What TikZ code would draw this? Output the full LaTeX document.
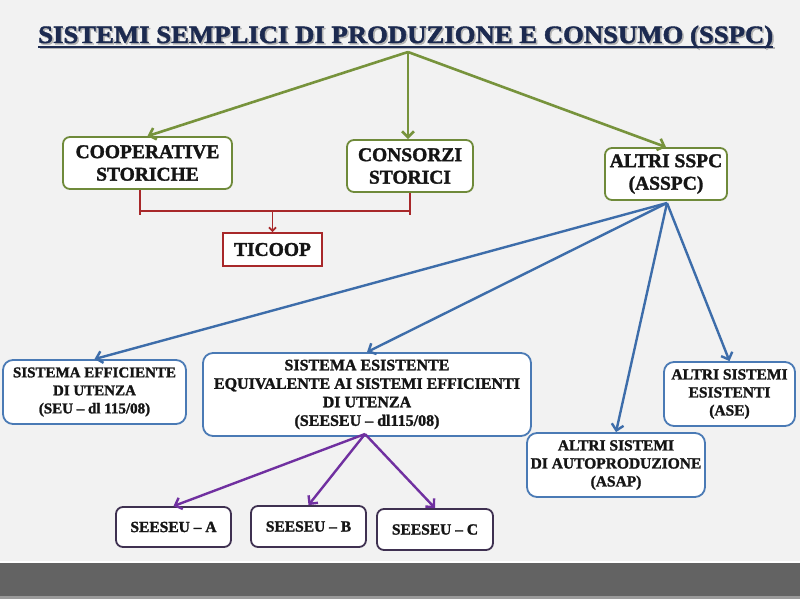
\documentclass[tikz,border=0pt]{standalone}
\usepackage{fontspec}
\setmainfont{Liberation Serif}[BoldFeatures={FakeBold=1.6}]
\usetikzlibrary{arrows.meta,calc}
\definecolor{bg}{HTML}{F2F2F2}
\definecolor{band}{HTML}{636363}
\definecolor{bandlow}{HTML}{9A9A9A}
\definecolor{navy}{HTML}{1C2A50}
\definecolor{lgreen}{HTML}{77933C}
\definecolor{bgreen}{HTML}{6F8A3A}
\definecolor{lred}{HTML}{A8282A}
\definecolor{lblue}{HTML}{3D6DAA}
\definecolor{bblue}{HTML}{4A7AB5}
\definecolor{lpurple}{HTML}{7030A0}
\definecolor{bpurple}{HTML}{3F3151}
\definecolor{txt}{HTML}{151515}
\begin{document}
\begin{tikzpicture}[x=1pt,y=-1pt,
  boxbase/.style={fill=white, align=center, inner sep=0pt, text=txt},
  gbox/.style={boxbase, draw=bgreen, line width=1.8pt, rounded corners=7pt,
    font=\fontsize{19.5}{22.5}\selectfont\bfseries},
  rbox/.style={boxbase, draw=lred, line width=1.8pt,
    font=\fontsize{19.5}{22}\selectfont\bfseries},
  bbox/.style={boxbase, draw=bblue, line width=1.8pt, rounded corners=10pt,
    font=\fontsize{15.5}{18}\selectfont\bfseries},
  pbox/.style={boxbase, draw=bpurple, line width=1.8pt, rounded corners=7pt,
    font=\fontsize{15.5}{18}\selectfont\bfseries},
  garrow/.style={draw=lgreen, line width=2.6pt, -{Straight Barb[length=6pt,width=12pt]}},
  barrow/.style={draw=lblue, line width=2.4pt, -{Straight Barb[length=6pt,width=12pt]}},
  parrow/.style={draw=lpurple, line width=2.4pt, -{Straight Barb[length=6pt,width=12pt]}},
  rline/.style={draw=lred, line width=1.8pt},
  rarrow/.style={draw=lred, line width=1.8pt, -{Straight Barb[length=3.5pt,width=7pt]}}
]
\useasboundingbox (0,0) rectangle (800,599);
% background
\fill[bg] (0,0) rectangle (800,561);
\fill[white] (0,561) rectangle (800,563);
\fill[band] (0,563) rectangle (800,596);
\fill[bandlow] (0,596) rectangle (800,599);

% title (shadow + text + underline)
\node[anchor=base west, inner sep=0pt, text=black!30] at (39.5,44.5)
  {\resizebox{735pt}{\height}{\fontsize{25}{28}\selectfont\bfseries SISTEMI SEMPLICI DI PRODUZIONE E CONSUMO (SSPC)}};
\fill[black!30] (39.5,47.5) rectangle (774.5,49.5);
\node[anchor=base west, inner sep=0pt, text=navy] (title) at (38,43)
  {\resizebox{735pt}{\height}{\fontsize{25}{28}\selectfont\bfseries SISTEMI SEMPLICI DI PRODUZIONE E CONSUMO (SSPC)}};
\fill[navy] (38,46) rectangle (773,48);

% boxes
\node[gbox, minimum width=169pt, minimum height=52pt] (coop) at (147.5,163) {COOPERATIVE\\STORICHE};
\node[gbox, minimum width=126pt, minimum height=52pt] (cons) at (410,166) {CONSORZI\\STORICI};
\node[gbox, minimum width=122pt, minimum height=52pt] (altri) at (666,174) {ALTRI SSPC\\(ASSPC)};
\node[rbox, minimum width=99pt, minimum height=33pt] (ticoop) at (272.5,249.5) {TICOOP};

\node[bbox, minimum width=183pt, minimum height=64pt, font=\fontsize{15}{18}\selectfont\bfseries] (seu) at (94.5,392)
  {SISTEMA EFFICIENTE\\DI UTENZA\\(SEU – dl 115/08)};
\node[bbox, minimum width=328pt, minimum height=83pt, font=\fontsize{16}{18.5}\selectfont\bfseries] (seeseu) at (367,394.5)
  {SISTEMA ESISTENTE\\EQUIVALENTE AI SISTEMI EFFICIENTI\\DI UTENZA\\(SEESEU – dl115/08)};
\node[bbox, minimum width=178pt, minimum height=64pt] (asap) at (616,465)
  {ALTRI SISTEMI\\DI AUTOPRODUZIONE\\(ASAP)};
\node[bbox, minimum width=131pt, minimum height=64pt] (ase) at (729.5,394)
  {ALTRI SISTEMI\\ESISTENTI\\(ASE)};

\node[pbox, minimum width=115pt, minimum height=40pt] (sa) at (173.5,527) {SEESEU – A};
\node[pbox, minimum width=115pt, minimum height=41pt] (sb) at (308.5,526.5) {SEESEU – B};
\node[pbox, minimum width=116pt, minimum height=41pt] (sc) at (435,529.5) {SEESEU – C};

% green connectors
\coordinate (gtop) at (408,52);
\draw[garrow] (gtop) -- (coop.north);
\draw[garrow] (gtop) -- (gtop |- cons.north);
\draw[garrow] (gtop) -- (altri.north);

% red connector
\coordinate (rl) at (140,211);
\coordinate (rr) at (410,211);
\coordinate (rm) at (272.5,211);
\draw[rline] (rl |- coop.south) -- ($(rl)+(0,3.5)$);
\draw[rline] (cons.south) -- ($(rr)+(0,3.5)$);
\draw[rline] (rl) -- (rr);
\draw[rarrow] (rm) -- (ticoop.north);

% blue connectors
\coordinate (btop) at (667,203);
\draw[barrow] (btop) -- (seu.north);
\draw[barrow] (btop) -- (seeseu.north);
\draw[barrow] (btop) -- (asap.north);
\draw[barrow] (btop) -- (ase.north);

% purple connectors
\coordinate (ptop) at (365,434);
\draw[parrow] (ptop) -- (sa.north);
\draw[parrow] (ptop) -- (sb.north);
\draw[parrow] (ptop) -- (sc.north);
\end{tikzpicture}
\end{document}
